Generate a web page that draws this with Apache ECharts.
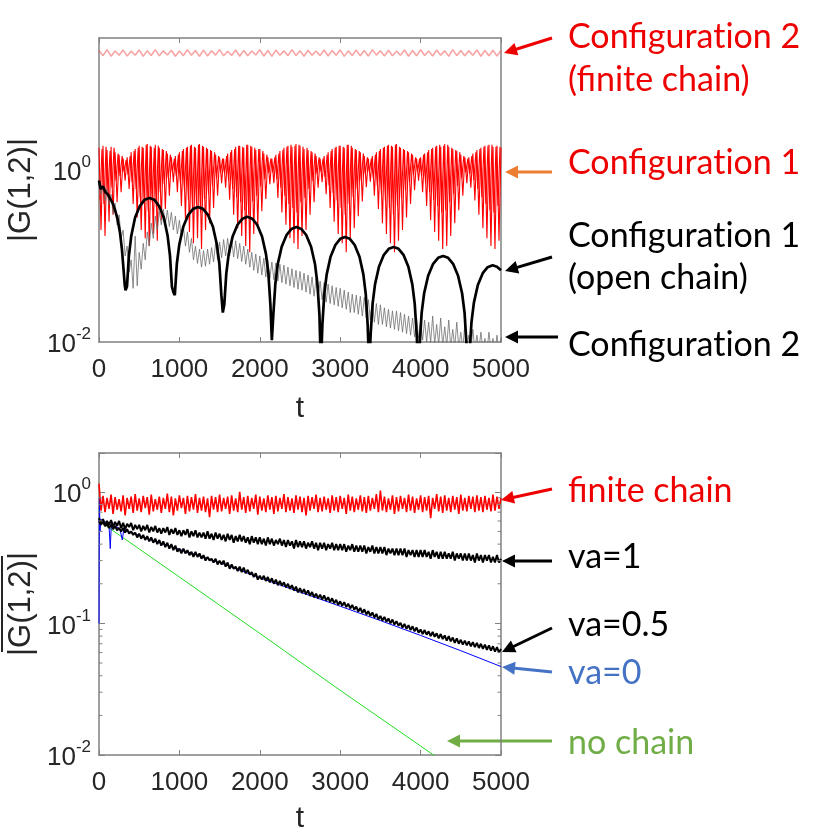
<!DOCTYPE html>
<html><head><meta charset="utf-8">
<script src="https://cdn.jsdelivr.net/npm/echarts@6/dist/echarts.min.js"></script>
<style>html,body{margin:0;padding:0;background:#fff}#c{width:826px;height:835px}</style>
</head><body><div id="c"></div>
<script>
// ---------- axis ticks ----------
const xTicks = [0, 1000, 2000, 3000, 4000, 5000];
const topYLabels = [0, -2];
const botYLabels = [0, -1, -2];
const minorTickVals = [0.02,0.03,0.04,0.05,0.06,0.07,0.08,0.09,0.2,0.3,0.4,0.5,0.6,0.7,0.8,0.9];

// sampling times
const t25 = Array.from({length: 201}, (_, i) => i * 25);
const t25off = Array.from({length: 200}, (_, i) => 12.5 + i * 25);
const t50 = Array.from({length: 101}, (_, i) => i * 50);

// ---------- top panel ----------
// Configuration 2 (finite chain), sampled every 50
const cfg2Finite = [
24.3,21.2,24.8,20.9,24.0,21.5,24.6,21.0,23.9,21.4,24.7,20.8,24.2,21.3,24.9,21.1,24.1,21.6,24.5,20.9,
24.0,21.2,24.8,21.4,24.3,20.8,24.6,21.0,24.2,21.5,24.9,21.1,23.8,21.3,24.7,20.9,24.4,21.2,24.0,21.6,
24.8,21.0,24.3,20.8,24.6,21.4,24.1,21.1,24.9,21.3,24.2,20.9,24.5,21.5,24.0,21.2,24.7,21.0,24.3,21.4,
24.8,20.8,24.1,21.3,24.6,21.1,24.4,20.9,24.9,21.5,24.2,21.0,24.5,21.2,23.9,21.4,24.7,20.9,24.3,21.1,
24.8,21.3,24.0,21.0,24.6,21.5,24.2,20.8,24.9,21.2,24.4,21.1,24.1,21.4,24.7,20.9,24.3,21.2,24.5,21.0,24.4];

// Configuration 1 (red), samples at t = 0, 25, 50, ...
const cfg1 = [
1.8,0.2,1.9,0.17,1.7,0.25,1.85,0.3,1.6,0.42,1.5,0.55,1.35,0.75,1.4,0.6,1.6,0.4,1.75,0.28,
1.9,0.2,1.8,0.16,2.0,0.13,1.85,0.18,1.95,0.15,1.8,0.26,1.7,0.35,1.55,0.5,1.4,0.72,1.45,0.55,
1.6,0.38,1.75,0.27,1.85,0.19,1.95,0.14,1.8,0.16,2.0,0.12,1.85,0.2,1.75,0.24,1.65,0.36,1.5,0.5,
1.4,0.7,1.35,0.62,1.55,0.45,1.7,0.3,1.85,0.21,1.9,0.17,1.8,0.13,1.95,0.11,1.85,0.18,1.7,0.22,
1.75,0.33,1.55,0.46,1.4,0.68,1.35,0.7,1.5,0.47,1.65,0.32,1.8,0.23,1.9,0.16,1.85,0.14,2.0,0.12,
1.9,0.17,1.75,0.2,1.7,0.3,1.6,0.42,1.45,0.62,1.35,0.72,1.45,0.52,1.6,0.36,1.75,0.25,1.85,0.18,
1.9,0.14,1.8,0.11,1.95,0.16,1.8,0.21,1.7,0.29,1.6,0.43,1.45,0.63,1.35,0.73,1.45,0.5,1.6,0.35,
1.75,0.24,1.85,0.18,1.95,0.14,1.85,0.11,2.0,0.15,1.8,0.2,1.7,0.28,1.6,0.4,1.5,0.58,1.35,0.75,
1.4,0.55,1.55,0.38,1.7,0.26,1.8,0.19,1.9,0.15,1.85,0.12,2.0,0.13,1.85,0.17,1.75,0.24,1.65,0.34,
1.5,0.5,1.4,0.7,1.4,0.62,1.55,0.44,1.7,0.3,1.8,0.21,1.9,0.16,1.95,0.13,1.85,0.12,1.9,0.15,1.8];
// Configuration 1 (red), in-between samples at t = 12.5, 37.5, ...
const cfg1b = [
0.45,1.75,0.4,1.85,0.55,1.65,0.62,1.8,0.75,1.55,0.85,1.45,0.95,1.3,0.88,1.45,0.72,1.65,0.6,1.8,
0.48,1.85,0.4,1.95,0.33,1.9,0.42,1.8,0.37,1.9,0.55,1.75,0.68,1.65,0.8,1.5,0.95,1.35,0.85,1.5,
0.7,1.65,0.58,1.8,0.45,1.9,0.36,1.85,0.4,1.95,0.32,1.9,0.46,1.8,0.52,1.7,0.66,1.6,0.8,1.45,
0.93,1.35,0.9,1.45,0.75,1.6,0.6,1.75,0.48,1.9,0.42,1.85,0.34,1.95,0.3,1.9,0.43,1.8,0.5,1.75,
0.64,1.65,0.78,1.5,0.92,1.35,0.93,1.4,0.78,1.55,0.62,1.7,0.5,1.85,0.4,1.95,0.36,1.9,0.32,1.95,
0.42,1.85,0.47,1.8,0.6,1.65,0.74,1.55,0.9,1.4,0.95,1.35,0.82,1.5,0.66,1.65,0.54,1.8,0.44,1.9,
0.36,1.85,0.3,1.95,0.4,1.9,0.48,1.75,0.6,1.65,0.75,1.55,0.9,1.4,0.95,1.35,0.8,1.5,0.65,1.65,
0.52,1.8,0.44,1.9,0.36,1.9,0.3,1.95,0.38,1.85,0.47,1.75,0.58,1.65,0.72,1.55,0.88,1.4,0.95,1.35,
0.85,1.5,0.7,1.6,0.55,1.75,0.45,1.85,0.38,1.95,0.32,1.9,0.34,1.95,0.42,1.8,0.52,1.7,0.65,1.6,
0.8,1.45,0.93,1.35,0.9,1.45,0.76,1.6,0.6,1.75,0.48,1.85,0.4,1.9,0.34,1.95,0.32,1.85,0.38,1.85];

// Configuration 1 (open chain), irregular times
const openT = [
0,20,50,80,110,140,170,200,230,260,285,305,320,330,
348,372,401,449,508,568,628,687,747,806,854,883,907,925,
943,968,999,1048,1110,1171,1232,1294,1355,1417,1466,1497,1522,1540,
1558,1583,1613,1662,1723,1784,1845,1906,1967,2028,2077,2107,2132,2150,
2168,2193,2223,2272,2333,2394,2455,2516,2577,2638,2687,2717,2742,2760,
2778,2802,2832,2880,2940,3000,3060,3120,3180,3240,3288,3318,3342,3360,
3378,3403,3433,3482,3543,3604,3665,3726,3787,3848,3897,3927,3952,3970,
3989,4013,4044,4094,4156,4218,4280,4342,4404,4466,4516,4547,4571,4590,
4608,4633,4663,4712,4773,4834,4895,4950,5000];
const openG = [
0.75,0.6,0.64,0.55,0.52,0.46,0.41,0.34,0.27,0.19,0.12,0.07,0.046,0.04,
0.044,0.1,0.17,0.28,0.38,0.45,0.47,0.45,0.38,0.28,0.17,0.1,0.044,0.038,
0.035,0.081,0.136,0.218,0.3,0.352,0.37,0.352,0.3,0.218,0.136,0.081,0.035,0.022,
0.027,0.062,0.105,0.168,0.23,0.271,0.285,0.271,0.23,0.168,0.105,0.062,0.027,0.0105,
0.0205,0.047,0.08,0.128,0.175,0.206,0.217,0.206,0.175,0.128,0.08,0.047,0.0205,0.005,
0.0156,0.036,0.061,0.098,0.134,0.158,0.166,0.158,0.134,0.098,0.061,0.036,0.0156,0.005,
0.012,0.0277,0.0467,0.075,0.103,0.121,0.127,0.121,0.103,0.075,0.0467,0.0277,0.012,0.005,
0.0094,0.0218,0.0368,0.0588,0.081,0.095,0.1,0.095,0.081,0.0588,0.0368,0.0218,0.0094,0.005,
0.0073,0.017,0.0287,0.046,0.063,0.074,0.078,0.075,0.068];

// Configuration 2 (gray), sampled every 25
const cfg2 = [
0.7,0.52,0.66,0.44,0.6,0.39,0.52,0.31,0.41,0.23,0.3,0.16,0.2,0.1,0.13,0.065,0.09,0.042,0.17,0.045,
0.11,0.07,0.14,0.09,0.19,0.13,0.24,0.16,0.29,0.2,0.33,0.23,0.35,0.23,0.34,0.22,0.32,0.2,0.29,0.18,
0.26,0.16,0.22,0.13,0.19,0.11,0.16,0.09,0.13,0.082,0.12,0.074,0.115,0.076,0.12,0.08,0.125,0.085,0.14,0.09,
0.145,0.095,0.155,0.1,0.16,0.1,0.155,0.097,0.15,0.093,0.14,0.086,0.13,0.08,0.12,0.074,0.11,0.068,0.105,0.063,
0.1,0.06,0.094,0.057,0.09,0.055,0.085,0.053,0.083,0.051,0.08,0.049,0.078,0.047,0.074,0.045,0.071,0.043,0.068,0.041,
0.066,0.04,0.063,0.038,0.06,0.036,0.057,0.034,0.054,0.032,0.051,0.031,0.049,0.029,0.047,0.028,0.045,0.027,0.043,0.026,
0.042,0.025,0.04,0.024,0.038,0.022,0.036,0.022,0.035,0.021,0.034,0.02,0.033,0.019,0.031,0.018,0.03,0.017,0.028,0.016,
0.027,0.016,0.025,0.015,0.024,0.0145,0.023,0.014,0.023,0.0135,0.022,0.013,0.021,0.0125,0.02,0.012,0.019,0.0115,0.019,0.011,
0.018,0.0105,0.018,0.01,0.017,0.0098,0.02,0.0095,0.016,0.0092,0.019,0.009,0.015,0.009,0.018,0.0088,0.014,0.0088,0.017,0.0085,
0.013,0.0085,0.016,0.0085,0.012,0.0082,0.014,0.008,0.012,0.008,0.013,0.008,0.011,0.0078,0.013,0.0078,0.011,0.0076,0.012,0.0075,0.011];

// ---------- bottom panel ----------
const finiteChain = [
1.15,0.72,0.93,0.7,0.9,0.74,0.95,0.68,0.91,0.73,0.88,
0.71,0.94,0.66,0.9,0.74,0.92,0.69,0.96,0.72,0.89,
0.7,0.93,0.75,0.91,0.67,0.95,0.71,0.88,0.73,0.92,
0.69,0.9,0.74,0.97,0.7,0.92,0.66,0.89,0.72,0.94,
0.75,0.9,0.68,0.93,0.71,0.91,0.73,0.96,0.69,0.9,
0.72,0.92,0.7,0.89,0.64,0.93,0.73,0.91,0.7,0.95,
0.71,0.9,0.74,0.92,0.68,0.94,0.72,0.89,0.7,1.0,
0.73,0.91,0.69,0.93,0.71,0.9,0.74,0.95,0.67,0.92,
0.72,0.89,0.7,0.94,0.73,0.91,0.68,0.93,0.71,0.9,
0.74,0.96,0.7,0.91,0.72,0.89,0.69,0.94,0.73,0.92,
0.7,0.9,0.66,0.93,0.72,0.91,0.74,0.95,0.7,0.9,
0.71,0.92,0.73,0.89,0.69,0.94,0.72,0.91,0.7,0.93,
0.74,0.9,0.68,0.95,0.72,0.92,0.7,0.89,0.73,0.94,
0.71,0.91,0.69,0.93,0.72,0.9,0.74,0.96,0.7,1.02,
0.72,0.92,0.7,0.89,0.73,0.94,0.68,0.91,0.71,0.93,
0.74,0.9,0.7,0.95,0.72,0.92,0.69,0.89,0.73,0.94,
0.7,0.91,0.72,0.93,0.63,0.9,0.74,0.96,0.71,0.92,
0.69,0.94,0.72,0.9,0.7,0.93,0.73,0.91,0.68,0.95,
0.72,0.9,0.71,0.93,0.74,0.92,0.7,0.94,0.72,0.91,
0.7,0.93,0.73,0.9,0.71,0.95,0.72,0.92,0.74,0.9];

const va1 = [
0.63,0.57,0.62,0.55,0.6,0.56,0.61,0.54,0.59,0.55,0.6,
0.53,0.58,0.52,0.57,0.54,0.58,0.51,0.56,0.52,0.56,
0.5,0.55,0.51,0.56,0.49,0.54,0.5,0.55,0.49,0.53,
0.48,0.53,0.49,0.54,0.47,0.52,0.48,0.53,0.47,0.51,
0.46,0.51,0.47,0.52,0.45,0.5,0.46,0.51,0.45,0.49,
0.45,0.49,0.44,0.5,0.44,0.48,0.43,0.49,0.44,0.48,
0.43,0.47,0.42,0.48,0.43,0.47,0.41,0.46,0.42,0.47,
0.42,0.46,0.41,0.45,0.4,0.46,0.41,0.45,0.4,0.45,
0.4,0.44,0.39,0.45,0.4,0.44,0.39,0.43,0.4,0.44,
0.39,0.43,0.38,0.43,0.39,0.42,0.37,0.43,0.38,0.42,
0.38,0.42,0.37,0.41,0.38,0.42,0.37,0.41,0.36,0.41,
0.37,0.41,0.36,0.4,0.37,0.41,0.36,0.4,0.36,0.4,
0.36,0.4,0.35,0.39,0.36,0.4,0.35,0.39,0.35,0.39,
0.35,0.39,0.34,0.38,0.35,0.39,0.34,0.38,0.34,0.38,
0.34,0.38,0.33,0.37,0.34,0.37,0.33,0.37,0.33,0.37,
0.33,0.37,0.32,0.36,0.33,0.36,0.32,0.36,0.32,0.36,
0.32,0.36,0.32,0.35,0.31,0.36,0.32,0.35,0.31,0.35,
0.31,0.35,0.31,0.34,0.31,0.35,0.3,0.34,0.31,0.34,
0.3,0.34,0.3,0.34,0.3,0.33,0.29,0.34,0.3,0.33,
0.29,0.33,0.3,0.33,0.29,0.32,0.29,0.33,0.29,0.31];

const va05 = [
0.6,0.56,0.6,0.55,0.57,0.53,0.56,0.52,0.55,0.51,0.53,
0.5,0.53,0.49,0.52,0.48,0.5,0.47,0.49,0.45,0.48,
0.44,0.47,0.43,0.46,0.42,0.45,0.41,0.44,0.4,0.43,
0.39,0.42,0.38,0.41,0.37,0.4,0.36,0.39,0.35,0.37,
0.34,0.37,0.34,0.36,0.33,0.35,0.32,0.35,0.32,0.34,
0.31,0.33,0.3,0.32,0.3,0.31,0.29,0.31,0.28,0.3,
0.28,0.3,0.27,0.29,0.26,0.28,0.26,0.27,0.25,0.27,
0.245,0.265,0.24,0.255,0.235,0.245,0.225,0.24,0.215,0.23,
0.215,0.23,0.21,0.225,0.205,0.22,0.2,0.215,0.195,0.21,
0.193,0.205,0.188,0.2,0.183,0.195,0.178,0.19,0.172,0.185,
0.17,0.182,0.166,0.178,0.162,0.173,0.158,0.168,0.155,0.165,
0.152,0.163,0.149,0.158,0.145,0.155,0.142,0.151,0.138,0.147,
0.136,0.145,0.133,0.141,0.13,0.138,0.127,0.134,0.123,0.131,
0.12,0.128,0.117,0.124,0.114,0.121,0.111,0.118,0.107,0.114,
0.105,0.112,0.103,0.109,0.1,0.107,0.098,0.104,0.096,0.101,
0.093,0.099,0.091,0.097,0.089,0.095,0.087,0.093,0.085,0.09,
0.083,0.089,0.082,0.087,0.08,0.086,0.079,0.084,0.077,0.083,
0.076,0.081,0.074,0.08,0.073,0.078,0.071,0.077,0.07,0.075,
0.069,0.074,0.068,0.073,0.067,0.072,0.066,0.071,0.065,0.07,
0.064,0.069,0.063,0.068,0.062,0.067,0.061,0.066,0.06,0.064];

const va0T = [0,5,12,25,45,70,100,125,140,155,180,220,260,290,310,350,450,600,800,1000,1500,2000,2500,3000,3500,4000,4500,5000];
const va0G = [0.1,0.9,0.5,0.62,0.58,0.6,0.57,0.55,0.37,0.6,0.55,0.54,0.52,0.43,0.53,0.5,0.48,0.44,0.4,0.365,0.29,0.222,0.173,0.135,0.105,0.081,0.062,0.047];

const noChainT = [0, 250, 1000, 2000, 3000, 4000, 4400];
const noChainG = [0.6, 0.47, 0.225, 0.084, 0.031, 0.0117, 0.0079];

// ---------- helpers ----------
const zip = (ts, vs) => ts.map((t, i) => [t, vs[i]]);
const FONT = 'Liberation Sans, Arial, sans-serif';
const AX = '#808080';
const TXT = '#262626';

function yLabel(shown) {
  return function (v) {
    const l = Math.log10(v), e = Math.round(l);
    if (Math.abs(l - e) > 1e-6 || shown.indexOf(e) < 0) return '';
    return '{b|10}{s|' + e + '}';
  };
}
const richY = {
  b: {fontSize: 26, fontFamily: FONT, color: TXT, lineHeight: 32, verticalAlign: 'bottom'},
  s: {fontSize: 17, fontFamily: FONT, color: TXT, lineHeight: 17, verticalAlign: 'top'}
};

function xAxisPair(grid, nameGap) {
  return [
    {gridIndex: grid, type: 'value', min: 0, max: 5000, interval: 1000, position: 'bottom',
     axisLine: {show: true, onZero: false, lineStyle: {color: AX, width: 1.5}},
     axisTick: {show: true, inside: true, length: 5, lineStyle: {color: AX}},
     axisLabel: {fontSize: 26, fontFamily: FONT, color: TXT, margin: 15,
                 formatter: v => xTicks.indexOf(v) >= 0 ? String(v) : ''},
     splitLine: {show: false},
     name: 't', nameLocation: 'middle', nameGap: nameGap,
     nameTextStyle: {fontSize: 30, fontFamily: FONT, color: TXT}},
    {gridIndex: grid, type: 'value', min: 0, max: 5000, interval: 1000, position: 'top',
     axisLine: {show: true, onZero: false, lineStyle: {color: AX, width: 1.5}},
     axisTick: {show: true, inside: true, length: 5, lineStyle: {color: AX}},
     axisLabel: {show: false}, splitLine: {show: false}}
  ];
}
function yAxisPair(grid, max, shown, ticks) {
  return [
    {gridIndex: grid, type: 'log', logBase: 10, min: 0.01, max: max, position: 'left',
     axisLine: {show: true, onZero: false, lineStyle: {color: AX, width: 1.5}},
     axisTick: {show: ticks, inside: true, length: 6, lineStyle: {color: AX}},
     axisLabel: {margin: 8, formatter: yLabel(shown), rich: richY},
     splitLine: {show: false},
     name: '|G(1,2)|', nameLocation: 'middle', nameRotate: 90, nameGap: 62,
     nameTextStyle: {fontSize: 31, fontFamily: FONT, color: TXT}},
    {gridIndex: grid, type: 'log', logBase: 10, min: 0.01, max: max, position: 'right',
     axisLine: {show: true, onZero: false, lineStyle: {color: AX, width: 1.5}},
     axisTick: {show: ticks, inside: true, length: 6, lineStyle: {color: AX}},
     axisLabel: {show: false}, splitLine: {show: false}}
  ];
}

function arrow(x1, y1, x2, y2, color) {
  const dx = x2 - x1, dy = y2 - y1, L = Math.hypot(dx, dy), ux = dx / L, uy = dy / L;
  const hl = 13, hw = 6.5;
  const bx = x2 - ux * hl, by = y2 - uy * hl;
  return {type: 'group', silent: true, children: [
    {type: 'line', shape: {x1: x1, y1: y1, x2: bx + ux * 2, y2: by + uy * 2}, style: {stroke: color, lineWidth: 3}},
    {type: 'polygon', shape: {points: [[x2, y2], [bx - uy * hw, by + ux * hw], [bx + uy * hw, by - ux * hw]]}, style: {fill: color}}
  ]};
}
function label(text, y, color) {
  return {type: 'text', x: 568, y: y, silent: true,
    style: {text: text, font: '34px Lato', fill: color, align: 'left', verticalAlign: 'middle'}};
}

const RED = '#ee0000', BLUE = '#4472C4', GREEN = '#70AD47', ORANGE = '#ED7D31';
const CONF = 'Configurat\u200Cion';

const line = (name, x, y, data, color, width, z, opacity) => ({
  name: name, type: 'line', xAxisIndex: x, yAxisIndex: y, data: data, showSymbol: false, symbol: 'none',
  clip: true, z: z, lineStyle: {color: color, width: width, opacity: opacity == null ? 1 : opacity},
  animation: false, silent: true
});

const chart = echarts.init(document.getElementById('c'), null, {renderer: 'canvas'});
chart.setOption({
  backgroundColor: '#fff',
  animation: false,
  grid: [
    {left: 99, top: 38, width: 402, height: 304},
    {left: 99, top: 453, width: 402, height: 303}
  ],
  xAxis: [].concat(xAxisPair(0, 52), xAxisPair(1, 49)),
  yAxis: [].concat(yAxisPair(0, 34, topYLabels, false), yAxisPair(1, 1.97, botYLabels, true)),
  series: [
    line('Configuration 2 (finite chain)', 0, 0, zip(t50, cfg2Finite), 'rgba(240,90,90,0.55)', 1.6, 2),
    line('Configuration 1', 0, 0, zip(t25, cfg1), '#ff0000', 1.1, 3),
    line('Configuration 1 (b)', 0, 0, zip(t25off, cfg1b), '#ff0000', 1.1, 3),
    line('Configuration 2', 0, 0, zip(t25, cfg2), '#6a6a6a', 0.9, 4, 0.85),
    line('Configuration 1 (open chain)', 0, 0, zip(openT, openG), '#000000', 2.7, 5),
    line('no chain', 2, 2, zip(noChainT, noChainG), '#22dd22', 1, 2),
    line('va=0', 2, 2, zip(va0T, va0G), '#0000ff', 1, 3),
    line('va=0.5', 2, 2, zip(t25, va05), '#000000', 2, 4),
    line('va=1', 2, 2, zip(t25, va1), '#000000', 2, 5),
    line('finite chain', 2, 2, zip(t25, finiteChain), '#ff0000', 1.6, 6),
    {type: 'custom', xAxisIndex: 2, yAxisIndex: 2, silent: true, clip: false, z: 10, animation: false,
     data: minorTickVals.map(v => [0, v]),
     renderItem: function (params, api) {
       const v = api.value(1);
       const a = api.coord([0, v]), b = api.coord([5000, v]);
       return {type: 'group', children: [
         {type: 'line', shape: {x1: a[0], y1: a[1], x2: a[0] + 3.5, y2: a[1]}, style: {stroke: AX, lineWidth: 1}},
         {type: 'line', shape: {x1: b[0] - 3.5, y1: b[1], x2: b[0], y2: b[1]}, style: {stroke: AX, lineWidth: 1}}
       ]};
     }}
  ],
  graphic: [
    arrow(552, 38, 504, 53, RED),
    arrow(552, 172, 505, 172, ORANGE),
    arrow(552, 257, 505, 271, '#000'),
    arrow(558, 337, 505, 337, '#000'),
    arrow(552, 489, 501, 500, RED),
    arrow(552, 561, 502, 561, '#000'),
    arrow(552, 628, 502, 652, '#000'),
    arrow(552, 672, 502, 667, BLUE),
    arrow(552, 741, 447, 741, GREEN),
    label(CONF + ' 2', 37, RED),
    label('(finite chain)', 80, RED),
    label(CONF + ' 1', 163, RED),
    label(CONF + ' 1', 236, '#000'),
    label('(open chain)', 278, '#000'),
    label(CONF + ' 2', 345, '#000'),
    label('finite chain', 491, RED),
    label('va=1', 557, '#000'),
    label('va=0.5', 625, '#000'),
    label('va=0', 673, BLUE),
    label('no chain', 743, GREEN),
    {type: 'line', silent: true, shape: {x1: 2, y1: 556, x2: 2, y2: 652}, style: {stroke: TXT, lineWidth: 2}}
  ]
});
</script>
</body></html>
